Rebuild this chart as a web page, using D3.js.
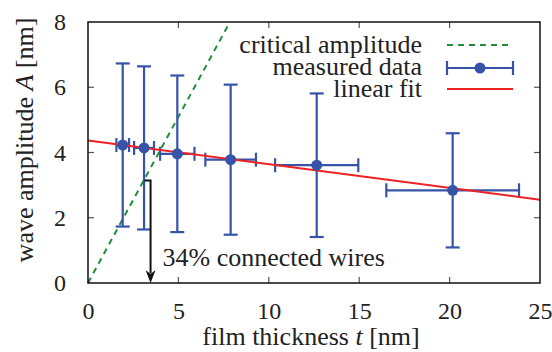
<!DOCTYPE html>
<html>
<head>
<meta charset="utf-8">
<script src="https://cdn.jsdelivr.net/npm/d3@7"></script>
<style>
  body { margin: 0; background: #fff; }
</style>
</head>
<body>
<script>
// data
const thickness = [1.92, 3.1, 4.94, 7.89, 12.65, 20.17];
const thicknessErr = [0.35, 0.55, 0.95, 1.4, 2.3, 3.67];
const amplitude = [4.23, 4.14, 3.96, 3.78, 3.61, 2.84];
const amplitudeErr = [2.5, 2.5, 2.4, 2.3, 2.2, 1.75];
const fitT = [0, 25];
const fitA = [4.37, 2.55];
const critT = [0, 7.85];
const critA = [0, 8];
const noteT = [3.12, 3.46, 3.46];
const noteA = [3.14, 3.14, 0];
const xTicks = [0, 5, 10, 15, 20, 25];
const yTicks = [0, 2, 4, 6, 8];
const legendLabels = ['critical amplitude', 'measured data', 'linear fit'];

const w = 552, h = 352;
const margin = { left: 88, top: 22, right: 12, bottom: 69 };
const blue = '#3653a8', green = '#1f8f3c', red = '#ee2222';

const svg = d3.select('body').append('svg')
  .attr('width', w).attr('height', h)
  .attr('font-family', 'Liberation Serif, Times New Roman, serif');
svg.append('style')
  .text('text { font-family: "Liberation Serif", "Times New Roman", serif; }');

const x = d3.scaleLinear().domain([0, 25]).range([margin.left, w - margin.right]);
const y = d3.scaleLinear().domain([0, 8]).range([h - margin.bottom, margin.top]);

const data = thickness.map((t, i) => ({
  t: t, dt: thicknessErr[i], a: amplitude[i], da: amplitudeErr[i],
}));

const styleText = (sel, size) => sel
  .attr('font-family', 'Liberation Serif')
  .attr('font-size', size)
  .attr('fill', '#222');

//axes: labels only, ticks drawn below
const axBottom = svg.append('g')
  .attr('transform', `translate(0, ${y(0)})`)
  .call(d3.axisBottom(x).tickValues(xTicks).tickSize(0).tickPadding(19));
const axLeft = svg.append('g')
  .attr('transform', `translate(${x(0)}, 0)`)
  .call(d3.axisLeft(y).tickValues(yTicks).tickSize(0).tickPadding(22));
[axBottom, axLeft].forEach((g) => {
  g.select('.domain').remove();
  g.attr('font-family', null).attr('font-size', null);
  g.selectAll('.tick line').remove();
  g.selectAll('text').call(styleText, 24);
});

//inward tick marks on all four sides
const ticks = svg.append('g').attr('stroke', '#555').attr('stroke-width', 1.2);
const xIn = xTicks.filter((d) => d > 0 && d < 25);
const yIn = yTicks.filter((d) => d > 0 && d < 8);
[[y(0), -6], [y(8), 6]].forEach(([yy, dy]) => {
  ticks.selectAll(null).data(xIn).enter().append('line')
    .attr('x1', (d) => x(d)).attr('x2', (d) => x(d))
    .attr('y1', yy).attr('y2', yy + dy);
});
[[x(0), 6], [x(25), -6]].forEach(([xx, dx]) => {
  ticks.selectAll(null).data(yIn).enter().append('line')
    .attr('y1', (d) => y(d)).attr('y2', (d) => y(d))
    .attr('x1', xx).attr('x2', xx + dx);
});

//critical amplitude
svg.append('line')
  .attr('x1', x(critT[0])).attr('y1', y(critA[0]))
  .attr('x2', x(critT[1])).attr('y2', y(critA[1]))
  .attr('stroke', green).attr('stroke-width', 2).attr('stroke-dasharray', '6,5');

//error bars
const cap = 7;
const bars = svg.append('g').attr('stroke', blue).attr('stroke-width', 2.2);
bars.selectAll('.ey').data(data).enter().append('line')
  .attr('x1', (d) => x(d.t)).attr('x2', (d) => x(d.t))
  .attr('y1', (d) => y(d.a - d.da)).attr('y2', (d) => y(d.a + d.da));
bars.selectAll('.ex').data(data).enter().append('line')
  .attr('y1', (d) => y(d.a)).attr('y2', (d) => y(d.a))
  .attr('x1', (d) => x(d.t - d.dt)).attr('x2', (d) => x(d.t + d.dt));
[-1, 1].forEach((s) => {
  bars.selectAll(null).data(data).enter().append('line')
    .attr('x1', (d) => x(d.t) - cap).attr('x2', (d) => x(d.t) + cap)
    .attr('y1', (d) => y(d.a + s * d.da)).attr('y2', (d) => y(d.a + s * d.da));
  bars.selectAll(null).data(data).enter().append('line')
    .attr('y1', (d) => y(d.a) - cap).attr('y2', (d) => y(d.a) + cap)
    .attr('x1', (d) => x(d.t + s * d.dt)).attr('x2', (d) => x(d.t + s * d.dt));
});

//linear fit
svg.append('line')
  .attr('x1', x(fitT[0])).attr('y1', y(fitA[0]))
  .attr('x2', x(fitT[1])).attr('y2', y(fitA[1]))
  .attr('stroke', red).attr('stroke-width', 2);

svg.selectAll('circle').data(data).enter().append('circle')
  .attr('cx', (d) => x(d.t)).attr('cy', (d) => y(d.a))
  .attr('r', 5.5).attr('fill', blue);

//annotation arrow
const note = d3.line().x((d) => x(d[0])).y((d) => y(d[1]));
const notePts = noteT.map((t, i) => [t, noteA[i]]);
notePts[2] = [notePts[2][0], notePts[2][1] + 0.3];
svg.append('path')
  .attr('d', note(notePts))
  .attr('fill', 'none').attr('stroke', '#111').attr('stroke-width', 2);
const tipX = x(noteT[2]), tipY = y(noteA[2]);
svg.append('path')
  .attr('d', `M${tipX},${tipY} L${tipX - 5},${tipY - 13} L${tipX},${tipY - 9} L${tipX + 5},${tipY - 13} Z`)
  .attr('fill', '#111');
svg.append('text')
  .attr('x', x(noteT[2]) + 12).attr('y', y(noteA[2]) - 17)
  .call(styleText, 26)
  .text('34% connected wires');

//frame
svg.append('rect')
  .attr('x', x(0)).attr('y', y(8))
  .attr('width', x(25) - x(0)).attr('height', y(0) - y(8))
  .attr('fill', 'none').attr('stroke', '#111').attr('stroke-width', 1.5);

//axis labels
const xl = svg.append('text')
  .attr('x', 311).attr('y', 345)
  .attr('text-anchor', 'middle').call(styleText, 26);
xl.append('tspan').text('film thickness ');
xl.append('tspan').attr('font-style', 'italic').text('t');
xl.append('tspan').text(' [nm]');

const yl = svg.append('text')
  .attr('transform', `translate(33, 140) rotate(-90)`)
  .attr('text-anchor', 'middle').call(styleText, 26);
yl.append('tspan').text('wave amplitude ');
yl.append('tspan').attr('font-style', 'italic').text('A');
yl.append('tspan').text(' [nm]');

//legend
const legY = [45, 68, 89];
const legBase = [53, 75, 97];
const leg = svg.append('g');
legendLabels.forEach((lab, i) => {
  leg.append('text')
    .attr('x', 422).attr('y', legBase[i])
    .attr('text-anchor', 'end').call(styleText, 26)
    .text(lab);
});
leg.append('line')
  .attr('x1', 447).attr('x2', 513).attr('y1', legY[0]).attr('y2', legY[0])
  .attr('stroke', green).attr('stroke-width', 2).attr('stroke-dasharray', '6,5');
leg.append('line')
  .attr('x1', 447).attr('x2', 513).attr('y1', legY[1]).attr('y2', legY[1])
  .attr('stroke', blue).attr('stroke-width', 2.2);
[447, 513].forEach((cx) => {
  leg.append('line')
    .attr('x1', cx).attr('x2', cx).attr('y1', legY[1] - cap).attr('y2', legY[1] + cap)
    .attr('stroke', blue).attr('stroke-width', 2.2);
});
leg.append('circle').attr('cx', 480).attr('cy', legY[1]).attr('r', 5.5).attr('fill', blue);
leg.append('line')
  .attr('x1', 447).attr('x2', 513).attr('y1', legY[2]).attr('y2', legY[2])
  .attr('stroke', red).attr('stroke-width', 2);
</script>
</body>
</html>
